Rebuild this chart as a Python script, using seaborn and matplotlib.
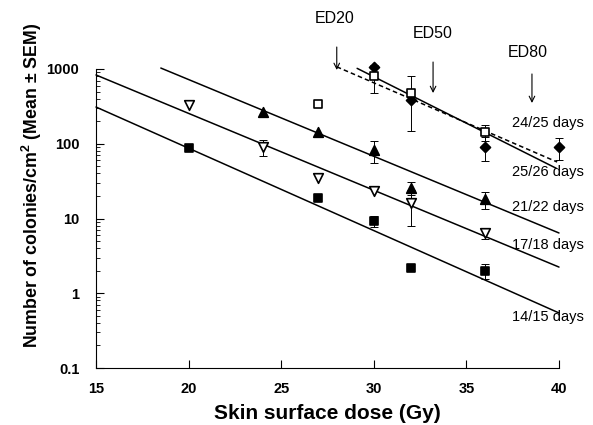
import numpy as np
import pandas as pd
import matplotlib
matplotlib.use("Agg")
import matplotlib.pyplot as plt
import seaborn as sns
from matplotlib.ticker import FixedLocator, FixedFormatter, LogLocator, NullFormatter

# ---------------- data ----------------
# 14/15 days (filled squares)
dose_14 = [20, 27, 30, 32, 36]
val_14 = [88, 18.8, 9.3, 2.2, 2.0]
sem_14 = [0, 0, 1.5, 0, 0.45]

# 17/18 days (open down-triangles)
dose_17 = [20, 24, 27, 30, 32, 36]
val_17 = [330, 90, 35, 23, 16, 6.4]
sem_17 = [0, 22, 0, 0, 8, 1.0]

# 21/22 days (filled up-triangles)
dose_21 = [24, 27, 30, 32, 36]
val_21 = [266, 144, 82, 25.6, 18.2]
sem_21 = [0, 0, 27, 5, 4.7]

# 24/25 days (filled diamonds)
dose_24 = [30, 32, 36, 40]
val_24 = [1060, 385, 90, 90]
sem_24 = [0, 0, 32, 30]

# 25/26 days (open squares)
dose_25 = [27, 30, 32, 36]
val_25 = [341, 800, 477, 143]
sem_25 = [0, 320, 330, 35]

# fitted regression lines (end points)
fit_14_x, fit_14_y = [15, 40], [310, 0.545]
fit_17_x, fit_17_y = [15, 40], [832, 2.24]
fit_21_x, fit_21_y = [18.5, 40], [1030, 6.4]
fit_25_x, fit_25_y = [29.1, 39.85], [1020, 47]
fit_24_x, fit_24_y = [28.0, 39.9], [1070, 57]

series_labels = ["14/15 days", "17/18 days", "21/22 days", "24/25 days", "25/26 days"]
label_x = [39.4, 39.4, 39.4, 39.4, 39.4]
label_y = [0.48, 4.4, 14.3, 190, 41.9]

ed_labels = ["ED20", "ED50", "ED80"]
ed_text_x = [27.9, 33.2, 38.3]
ed_text_y = [4810, 3020, 1637]
ed_arrow_x = [28.0, 33.2, 38.54]
ed_arrow_top = [1968, 1240, 858]
ed_arrow_bottom = [970, 477, 351]

x_ticks = [15, 20, 25, 30, 35, 40]
y_ticks = [0.1, 1, 10, 100, 1000]
y_tick_labels = ["0.1", "1", "10", "100", "1000"]

# ---------------- style ----------------
sns.set_style("ticks")
plt.rcParams["font.family"] = ["Liberation Sans", "DejaVu Sans"]
plt.rcParams["text.color"] = "black"
plt.rcParams["axes.labelcolor"] = "black"
plt.rcParams["xtick.color"] = "black"
plt.rcParams["ytick.color"] = "black"
plt.rcParams["axes.edgecolor"] = "black"

fig = plt.figure(figsize=(5.93, 4.25), dpi=100)
ax = fig.add_axes([96 / 593, 1 - 368 / 425, (559 - 96) / 593, (368 - 69) / 425])

groups = [
    ("14/15 days", dose_14, val_14, sem_14, "s", "black", 34),
    ("17/18 days", dose_17, val_17, sem_17, "v", "white", 48),
    ("21/22 days", dose_21, val_21, sem_21, "^", "black", 48),
    ("24/25 days", dose_24, val_24, sem_24, "D", "black", 26),
    ("25/26 days", dose_25, val_25, sem_25, "s", "white", 40),
]

# fit lines
for fx, fy, ls in [(fit_14_x, fit_14_y, "-"), (fit_17_x, fit_17_y, "-"),
                   (fit_21_x, fit_21_y, "-"), (fit_25_x, fit_25_y, "-"),
                   (fit_24_x, fit_24_y, (0, (3, 2)))]:
    sns.lineplot(x=fx, y=fy, ax=ax, color="black", lw=1.1, linestyle=ls,
                 zorder=2, clip_on=False)

for name, d, v, s, m, fc, size in groups:
    d = np.array(d, float); v = np.array(v, float); s = np.array(s, float)
    mask = s > 0
    if mask.any():
        eb = ax.errorbar(d[mask], v[mask], yerr=s[mask], fmt="none", ecolor="black",
                         elinewidth=0.7, capsize=3, capthick=0.7, zorder=3)
        for art in eb.lines[1] + eb.lines[2]:
            art.set_clip_on(False)
    df = pd.DataFrame({"dose": d, "val": v})
    sns.scatterplot(data=df, x="dose", y="val", ax=ax, marker=m, s=size,
                    facecolor=fc, edgecolor="black", linewidth=1.2, zorder=4,
                    clip_on=False)

ax.set_yscale("log")
ax.set_xlim(15, 40)
ax.set_ylim(0.1, 1000)

for lab, lx, ly in zip(series_labels, label_x, label_y):
    ax.text(lx, ly, lab, ha="center", va="center", fontsize=10.5, clip_on=False)

for lab, tx, ty, axx, at, ab in zip(ed_labels, ed_text_x, ed_text_y, ed_arrow_x, ed_arrow_top, ed_arrow_bottom):
    ax.text(tx, ty, lab, ha="center", va="center", fontsize=11.5, clip_on=False)
    ax.annotate("", xy=(axx, ab), xytext=(axx, at), annotation_clip=False,
                arrowprops=dict(arrowstyle="->", lw=0.8, color="black",
                                shrinkA=0, shrinkB=0, mutation_scale=10))

ax.xaxis.set_major_locator(FixedLocator(x_ticks))
ax.set_xticklabels([str(t) for t in x_ticks])
ax.yaxis.set_major_locator(FixedLocator(y_ticks))
ax.yaxis.set_major_formatter(FixedFormatter(y_tick_labels))
ax.yaxis.set_minor_locator(LogLocator(base=10, subs=np.arange(2, 10)))
ax.yaxis.set_minor_formatter(NullFormatter())

ax.tick_params(axis="x", which="major", direction="in", length=6, width=0.8,
               labelsize=10.5, pad=10)
ax.tick_params(axis="y", which="major", direction="in", length=6, width=0.8,
               labelsize=10.5, pad=12)
ax.tick_params(axis="y", which="minor", direction="in", length=3, width=0.6)
for lab in ax.get_xticklabels() + ax.get_yticklabels():
    lab.set_fontweight("bold")

sns.despine(ax=ax)
for sp in ["left", "bottom"]:
    ax.spines[sp].set_linewidth(0.8)

ax.set_xlabel("Skin surface dose (Gy)", fontsize=15, fontweight="bold", labelpad=6)
ax.set_ylabel("Number of colonies/cm$^{\\mathregular{2}}$ (Mean \u00b1 SEM)", fontsize=12.8,
              fontweight="bold")
ax.yaxis.set_label_coords(-0.112, 0.612)

fig.savefig("out.png", dpi=100)
